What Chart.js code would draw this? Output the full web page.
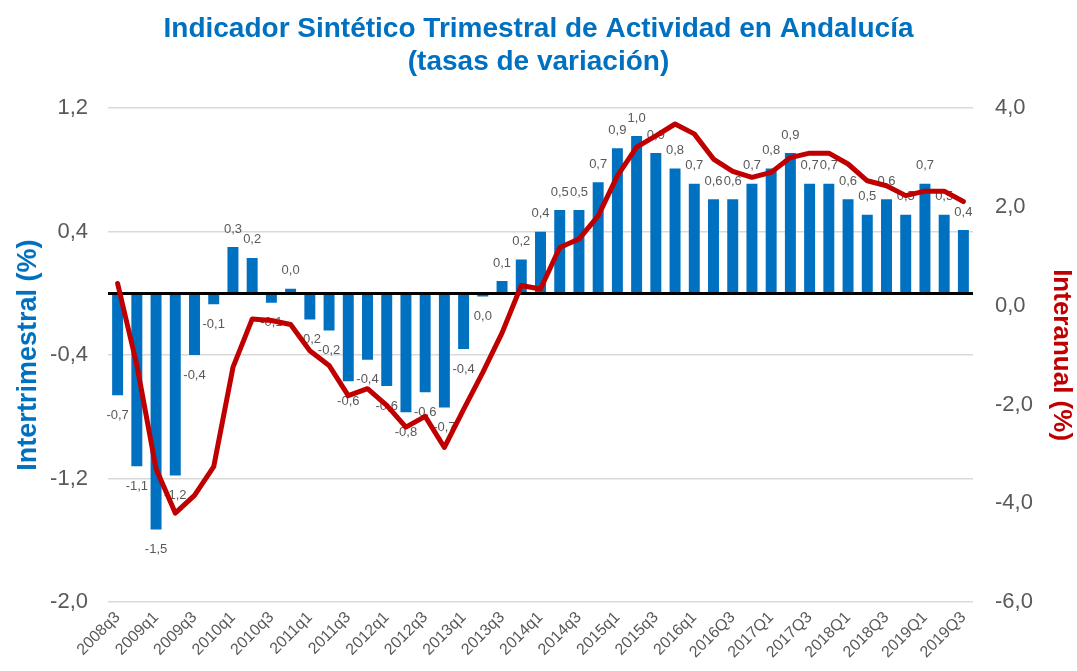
<!DOCTYPE html>
<html>
<head>
<meta charset="utf-8">
<script src="https://cdn.jsdelivr.net/npm/chart.js@4"></script>
<style>
  html, body { margin: 0; padding: 0; background: #fff; }
  #wrap { width: 1077px; height: 671px; }
</style>
</head>
<body>
<div id="wrap"><canvas id="isa"></canvas></div>
<script>
// Quarters (x axis)
const quarters = ['2008q3','2008q4','2009q1','2009q2','2009q3','2009q4','2010q1','2010q2','2010q3','2010q4',
  '2011q1','2011q2','2011q3','2011q4','2012q1','2012q2','2012q3','2012q4','2013q1','2013q2',
  '2013q3','2013q4','2014q1','2014q2','2014q3','2014q4','2015q1','2015q2','2015q3','2015q4',
  '2016q1','2016q2','2016Q3','2016Q4','2017Q1','2017Q2','2017Q3','2017Q4','2018Q1','2018Q2',
  '2018Q3','2018Q4','2019Q1','2019Q2','2019Q3'];

// Intertrimestral (%) - bars, left axis
const intertrimestral = [-0.66, -1.12, -1.53, -1.18, -0.40, -0.07, 0.30, 0.23, -0.06, 0.03,
  -0.17, -0.24, -0.57, -0.43, -0.60, -0.77, -0.64, -0.74, -0.36, -0.02,
  0.08, 0.22, 0.40, 0.54, 0.54, 0.72, 0.94, 1.02, 0.91, 0.81,
  0.71, 0.61, 0.61, 0.71, 0.81, 0.91, 0.71, 0.71, 0.61, 0.51,
  0.61, 0.51, 0.71, 0.51, 0.41];

// Interanual (%) - line, right axis
const interanual = [0.45, -1.2, -3.3, -4.2, -3.84, -3.26, -1.25, -0.27, -0.30, -0.38,
  -0.91, -1.21, -1.82, -1.68, -2.02, -2.46, -2.24, -2.87, -2.1, -1.35,
  -0.55, 0.41, 0.34, 1.18, 1.35, 1.82, 2.63, 3.21, 3.44, 3.68,
  3.48, 2.97, 2.72, 2.60, 2.70, 3.00, 3.09, 3.09, 2.87, 2.53,
  2.43, 2.23, 2.32, 2.32, 2.11];

const leftTicks = [-2.0, -1.2, -0.4, 0.4, 1.2];
const rightTicks = [-6, -4, -2, 0, 2, 4];

const FONT = "'Liberation Sans', Arial, sans-serif";
const BLUE = '#0070C0';
const RED = '#C00000';
const GREY = '#595959';

// decimal comma, one decimal
function fmt(v) {
  return (Math.round(v * 10) / 10).toFixed(1).replace('.', ',');
}

// zero line + bar value labels, drawn right after the bars (under the line)
const barExtras = {
  id: 'barExtras',
  afterDatasetDraw(chart, args) {
    if (args.index !== 0) return;
    const ctx = chart.ctx;
    const area = chart.chartArea;
    const y0 = chart.scales.y.getPixelForValue(0);
    ctx.save();
    ctx.strokeStyle = '#000';
    ctx.lineWidth = 3;
    ctx.beginPath();
    ctx.moveTo(area.left, y0);
    ctx.lineTo(area.right, y0);
    ctx.stroke();

    ctx.font = '13px ' + FONT;
    ctx.fillStyle = GREY;
    ctx.textAlign = 'center';
    ctx.textBaseline = 'middle';
    args.meta.data.forEach((bar, i) => {
      const v = intertrimestral[i];
      const y = v >= 0 ? bar.y - 18 : bar.y + 20;
      ctx.fillText(fmt(v), bar.x, y);
    });
    ctx.restore();
  }
};

new Chart(document.getElementById('isa'), {
  type: 'bar',
  data: {
    labels: quarters,
    datasets: [
      {
        type: 'bar',
        label: 'Intertrimestral',
        data: intertrimestral,
        backgroundColor: BLUE,
        yAxisID: 'y',
        barPercentage: 0.57,
        categoryPercentage: 1.0,
        order: 1
      },
      {
        type: 'line',
        label: 'Interanual',
        data: interanual,
        borderColor: RED,
        borderWidth: 5,
        pointRadius: 0,
        tension: 0,
        borderJoinStyle: 'round',
        borderCapStyle: 'round',
        fill: false,
        yAxisID: 'y1',
        order: 0
      }
    ]
  },
  options: {
    responsive: true,
    maintainAspectRatio: false,
    animation: false,
    layout: { padding: 0 },
    plugins: {
      legend: { display: false },
      tooltip: { enabled: false },
      title: {
        display: true,
        text: ['Indicador Sintético Trimestral de Actividad en Andalucía', '(tasas de variación)'],
        color: BLUE,
        font: { family: FONT, size: 28, weight: 'bold', lineHeight: 1.2 },
        padding: { top: 12, bottom: 29 }
      }
    },
    scales: {
      x: {
        grid: { display: false, drawTicks: false },
        border: { display: false },
        ticks: {
          autoSkip: false,
          maxRotation: 45,
          minRotation: 45,
          padding: 6,
          color: GREY,
          font: { family: FONT, size: 16 },
          callback: (val, i) => (i % 2 === 0 ? quarters[i] : '')
        },
        afterFit: s => { s.height = 69; }
      },
      y: {
        position: 'left',
        min: -2.0,
        max: 1.2,
        afterBuildTicks: s => { s.ticks = leftTicks.map(v => ({ value: v })); },
        grid: { color: '#d9d9d9', lineWidth: 1.5, drawTicks: false },
        border: { display: false },
        ticks: {
          padding: 20,
          color: GREY,
          font: { family: FONT, size: 22 },
          callback: v => fmt(v)
        },
        title: {
          display: true,
          text: 'Intertrimestral (%)',
          color: BLUE,
          font: { family: FONT, size: 27, weight: 'bold' },
          padding: { top: 12, bottom: 0 }
        },
        afterFit: s => { s.width = 108; }
      },
      y1: {
        position: 'right',
        min: -6,
        max: 4,
        afterBuildTicks: s => { s.ticks = rightTicks.map(v => ({ value: v })); },
        grid: { display: false, drawTicks: false },
        border: { display: false },
        ticks: {
          padding: 22,
          color: GREY,
          font: { family: FONT, size: 22 },
          callback: v => fmt(v)
        },
        title: {
          display: true,
          text: 'Interanual (%)',
          color: RED,
          font: { family: FONT, size: 26, weight: 'bold' },
          padding: { top: 0, bottom: 0 }
        },
        afterFit: s => { s.width = 104; }
      }
    }
  },
  plugins: [barExtras]
});
</script>
</body>
</html>
